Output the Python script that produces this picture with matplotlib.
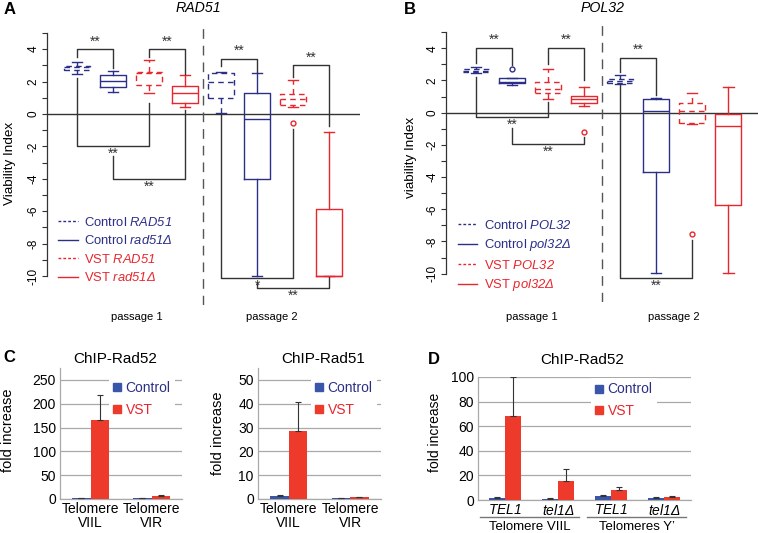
import matplotlib
matplotlib.use("Agg")
import matplotlib.pyplot as plt
import matplotlib.transforms as mtransforms
from matplotlib.lines import Line2D
import numpy as np

plt.rcParams['font.family'] = ['Liberation Sans', 'DejaVu Sans']
# everything inside $...$ is the gene name -> italic, digits included
plt.rcParams['mathtext.fontset'] = 'custom'
plt.rcParams['mathtext.rm'] = 'Liberation Sans:italic'
plt.rcParams['mathtext.it'] = 'Liberation Sans:italic'
plt.rcParams['mathtext.bf'] = 'Liberation Sans:bold'

# ---------------- panel A: RAD51 viability index (box stats) ----------------
a_whislo = [2.47, 1.34, 1.28, 0.41, 0.04, -9.98, 0.42, -10.0]
a_q1 = [2.72, 1.69, 1.80, 0.66, 1.00, -4.01, 0.55, -10.0]
a_med = [2.90, 2.04, 2.50, 1.28, 1.96, -0.33, 0.93, -10.0]
a_q3 = [2.98, 2.40, 2.60, 1.75, 2.55, 1.32, 1.25, -5.86]
a_whishi = [3.23, 2.67, 3.31, 2.39, 2.61, 2.55, 2.10, -1.09]
a_fliers = [[], [], [], [], [], [], [-0.57], []]
# significance brackets: left box, right box, bar height, left leg end, right leg end, label, above?
a_br_left = [1, 3, 1, 2, 5, 7, 5, 6]
a_br_right = [2, 4, 3, 4, 6, 8, 7, 8]
a_br_y = [4.0, 4.0, -2.0, -4.0, 3.4, 3.0, -10.15, -10.75]
a_br_yl = [3.54, 3.5, 2.2, -2.6, 2.93, 2.3, 0.0, -10.45]
a_br_yr = [2.82, 2.45, 0.7, 0.25, 2.6, -0.75, -0.95, -10.05]
a_br_txt = ['**', '**', '**', '**', '**', '**', '*', '**']
a_br_up = [True, True, False, False, True, True, False, False]

# ---------------- panel B: POL32 viability index ----------------
b_whislo = [2.49, 1.72, 0.85, 0.42, 1.78, -9.98, -0.70, -9.98]
b_q1 = [2.52, 1.83, 1.20, 0.58, 1.85, -3.70, -0.62, -5.73]
b_med = [2.59, 1.93, 1.45, 0.87, 1.95, 0.10, 0.10, -0.81]
b_q3 = [2.70, 2.13, 1.93, 1.06, 2.10, 0.83, 0.62, -0.10]
b_whishi = [2.86, 2.13, 2.71, 1.58, 2.36, 0.93, 1.20, 1.58]
b_fliers = [[], [2.71], [], [-1.18], [], [], [-7.55], []]
b_br_left = [1, 3, 5, 1, 2, 5]
b_br_right = [2, 4, 6, 3, 4, 7]
b_br_y = [4.04, 4.04, 3.42, -0.29, -1.96, -10.29]
b_br_yl = [3.07, 3.0, 2.55, 2.24, -0.97, 1.72]
b_br_yr = [2.96, 2.0, 1.1, 0.68, -1.49, -7.9]
b_br_txt = ['**'] * 6
b_br_up = [True, True, True, False, False, False]

# ---------------- panel C / D: ChIP fold increase ----------------
c_cats = ['Telomere\nVIIL', 'Telomere\nVIR']
c52_ctrl = [1.5, 1.2]
c52_ctrl_err = [0.5, 0.5]
c52_vst = [165, 5.5]
c52_vst_err = [54, 3.0]
c51_ctrl = [1.4, 0.5]
c51_ctrl_err = [0.4, 0.1]
c51_vst = [28.6, 0.7]
c51_vst_err = [12.3, 0.2]

d_cats = ['$TEL1$', '$tel1Δ$', '$TEL1$', '$tel1Δ$']
d_groups = ['Telomere VIIL', 'Telomeres Y’']
d_ctrl = [1.8, 1.2, 3.0, 1.8]
d_ctrl_err = [0.6, 0.6, 1.2, 0.5]
d_vst = [68, 15.5, 8.5, 2.8]
d_vst_err = [32, 10, 2.3, 0.8]

navy = '#2c2f86'
red = '#e8262d'
bar_blue = '#3a56a8'
bar_red = '#ee3a2a'
ink = '#333333'
grid_gray = '#a9a9a9'

W, H = 758, 533
fig = plt.figure(figsize=(W / 100, H / 100), dpi=100)


def px_axes(l, t, r, b):
    return fig.add_axes([l / W, 1 - b / H, (r - l) / W, (b - t) / H])


def ftext(x, y, s, **kw):
    kw.setdefault('ha', 'center')
    kw.setdefault('va', 'center')
    fig.text(x / W, 1 - y / H, s, **kw)


box_cols = [navy, navy, red, red] * 2
box_dash = [True, False, True, False] * 2


def box_panel(ax, lo, q1, med, q3, hi, fl, brl, brr, bry, bryl, bryr, brt, brup, ylim, xlim):
    pos = np.arange(1, 9)
    for i in range(8):
        st = dict(whislo=lo[i], q1=q1[i], med=med[i], q3=q3[i], whishi=hi[i], fliers=fl[i])
        c = box_cols[i]
        ls = (0, (4, 3)) if box_dash[i] else '-'
        ax.bxp([st], positions=[pos[i]], widths=0.72, capwidths=0.3,
               boxprops=dict(color=c, lw=1.0, ls=ls),
               whiskerprops=dict(color=c, lw=1.0, ls=ls),
               capprops=dict(color=c, lw=1.0),
               medianprops=dict(color=c, lw=1.0, ls=ls),
               flierprops=dict(marker='o', mfc='none', mec=c, ms=3.5, mew=1.0, ls='none'),
               manage_ticks=False)
    ax.axhline(0, color=ink, lw=1.0, zorder=1)
    ax.axvline(4.5, color='#555555', lw=1.0, ls=(0, (7, 5)))
    for l, r, y, yl, yr, s, up in zip(brl, brr, bry, bryl, bryr, brt, brup):
        ax.plot([l, l, r, r], [yl, y, y, yr], color=ink, lw=1.0, clip_on=False)
        if up:
            ax.text((l + r) / 2, y + 0.05, s, ha='center', va='bottom', fontsize=10, color=ink)
        else:
            ax.text((l + r) / 2, y - 0.05, s, ha='center', va='top', fontsize=10, color=ink)
    ax.set_xlim(*xlim)
    ax.set_ylim(*ylim)
    ax.set_xticks([])
    ticks = list(range(-10, 6))
    ax.set_yticks(ticks)
    ax.set_yticklabels([str(t) if (t % 2 == 0 and t < 5) else '' for t in ticks],
                       rotation=90, va='center')
    ax.tick_params(axis='y', direction='out', length=3.6, width=0.8, color=ink,
                   labelsize=8.5, pad=2)
    for s in ['top', 'right', 'bottom']:
        ax.spines[s].set_visible(False)
    ax.spines['left'].set_bounds(-10, 5)
    ax.spines['left'].set_color(ink)
    ax.spines['left'].set_linewidth(0.9)
    ax.patch.set_alpha(0)
    handles = [Line2D([], [], color=navy, lw=1, ls=(0, (2, 1.5))),
               Line2D([], [], color=navy, lw=1),
               Line2D([], [], color=red, lw=1, ls=(0, (2, 1.5))),
               Line2D([], [], color=red, lw=1)]
    return handles


# ---- A
axA = px_axes(47, 25, 360, 305)
h = box_panel(axA, a_whislo, a_q1, a_med, a_q3, a_whishi, a_fliers,
              a_br_left, a_br_right, a_br_y, a_br_yl, a_br_yr, a_br_txt, a_br_up,
              (-11.79, 5.49), (0.167, 8.86))
legA = axA.legend(h, ['Control $RAD51$', 'Control $rad51Δ$',
                      'VST $RAD51$', 'VST $rad51Δ$'],
                  loc='upper left', bbox_to_anchor=(0.035, 0.318), frameon=False,
                  fontsize=9.4, handlelength=1.5, handletextpad=0.5, labelspacing=0.42,
                  borderpad=0, borderaxespad=0)
for t, c in zip(legA.get_texts(), [navy, navy, red, red]):
    t.set_color(c)

# ---- B
axB = px_axes(446, 23, 758, 302)
h = box_panel(axB, b_whislo, b_q1, b_med, b_q3, b_whishi, b_fliers,
              b_br_left, b_br_right, b_br_y, b_br_yl, b_br_yr, b_br_txt, b_br_up,
              (-11.76, 5.57), (0.167, 8.83))
legB = axB.legend(h, ['Control $POL32$', 'Control $pol32Δ$',
                      'VST $POL32$', 'VST $pol32Δ$'],
                  loc='upper left', bbox_to_anchor=(0.038, 0.298), frameon=False,
                  fontsize=9.4, handlelength=1.5, handletextpad=0.5, labelspacing=0.42,
                  borderpad=0, borderaxespad=0)
for t, c in zip(legB.get_texts(), [navy, navy, red, red]):
    t.set_color(c)

ftext(10, 9, 'A', fontsize=12, fontweight='bold')
ftext(198, 8, 'RAD51', fontsize=10.2, style='italic')
ftext(10, 163, 'Viability Index', fontsize=9.7, rotation=90)
ftext(137, 317, 'passage 1', fontsize=8)
ftext(272, 317, 'passage 2', fontsize=8)

ftext(410, 9, 'B', fontsize=12, fontweight='bold')
ftext(603, 8, 'POL32', fontsize=10.2, style='italic')
ftext(411, 157, 'viability Index', fontsize=9.7, rotation=90)
ftext(532, 317, 'passage 1', fontsize=8)
ftext(674, 317, 'passage 2', fontsize=8)


def bar_panel(ax, cats, ctrl, ctrl_err, vst, vst_err, ymax, yticks, leg_xy):
    x = np.arange(len(cats))
    ax.bar(x - 0.15, ctrl, 0.3, color=bar_blue, zorder=3)
    ax.bar(x + 0.15, vst, 0.3, color=bar_red, zorder=3)
    ax.errorbar(x - 0.15, ctrl, yerr=[np.zeros(len(x)), ctrl_err], fmt='none',
                ecolor=ink, elinewidth=0.8, capsize=2.5, capthick=0.8, zorder=4)
    ax.errorbar(x + 0.15, vst, yerr=[np.zeros(len(x)), vst_err], fmt='none',
                ecolor=ink, elinewidth=0.8, capsize=2.5, capthick=0.8, zorder=4)
    ax.set_xlim(-0.5, len(cats) - 0.5)
    ax.set_ylim(0, ymax)
    ax.set_yticks(yticks)
    ax.set_xticks(x)
    ax.set_xticklabels(cats, linespacing=1.0)
    ax.yaxis.grid(True, color=grid_gray, lw=0.9)
    ax.set_axisbelow(True)
    ax.tick_params(length=0, labelsize=10, pad=3)
    ax.tick_params(axis='x', pad=2, labelsize=10)
    for s in ['top', 'right']:
        ax.spines[s].set_visible(False)
    for s in ['left', 'bottom']:
        ax.spines[s].set_color(grid_gray)
        ax.spines[s].set_linewidth(0.9)
    hs = [Line2D([], [], marker='s', color=bar_blue, ls='none', ms=6),
          Line2D([], [], marker='s', color=bar_red, ls='none', ms=6)]
    lg = ax.legend(hs, ['Control', 'VST'], loc='upper left', bbox_to_anchor=leg_xy,
                   frameon=True, facecolor='white', edgecolor='none', framealpha=1,
                   fancybox=False, fontsize=10, handlelength=0.6, handletextpad=0.3,
                   labelspacing=0.55, borderpad=0.3, borderaxespad=0)
    for t, c in zip(lg.get_texts(), [navy, red]):
        t.set_color(c)


axC1 = px_axes(60, 368, 182, 499)
bar_panel(axC1, c_cats, c52_ctrl, c52_ctrl_err, c52_vst, c52_vst_err, 275,
          [0, 50, 100, 150, 200, 250], (0.40, 0.93))
axC2 = px_axes(258, 368, 381, 499)
bar_panel(axC2, c_cats, c51_ctrl, c51_ctrl_err, c51_vst, c51_vst_err, 55,
          [0, 10, 20, 30, 40, 50], (0.43, 0.93))
axD = px_axes(478, 377, 691, 500)
bar_panel(axD, d_cats, d_ctrl, d_ctrl_err, d_vst, d_vst_err, 100,
          [0, 20, 40, 60, 80, 100], (0.53, 0.99))

# group brackets under D
trD = mtransforms.blended_transform_factory(axD.transData, axD.transAxes)
for g, (a, b) in enumerate([(0, 1), (2, 3)]):
    axD.plot([a - 0.46, b + 0.4], [-0.135, -0.135], color='#777777', lw=1.0,
             transform=trD, clip_on=False)
    axD.text((a + b) / 2 - 0.02, -0.218, d_groups[g], transform=trD, ha='center', va='center',
             fontsize=9.5)

ftext(9, 358, 'C', fontsize=12, fontweight='bold')
ftext(115, 359, 'ChIP-Rad52', fontsize=11)
ftext(323, 359, 'ChIP-Rad51', fontsize=11)
ftext(8, 430, 'fold increase', fontsize=10.5, rotation=90)
ftext(218, 433, 'fold increase', fontsize=10.5, rotation=90)

ftext(434, 360, 'D', fontsize=12, fontweight='bold')
ftext(582, 360, 'ChIP-Rad52', fontsize=11)
ftext(435, 432, 'fold increase', fontsize=10, rotation=90)

fig.savefig('out.png', dpi=100)
